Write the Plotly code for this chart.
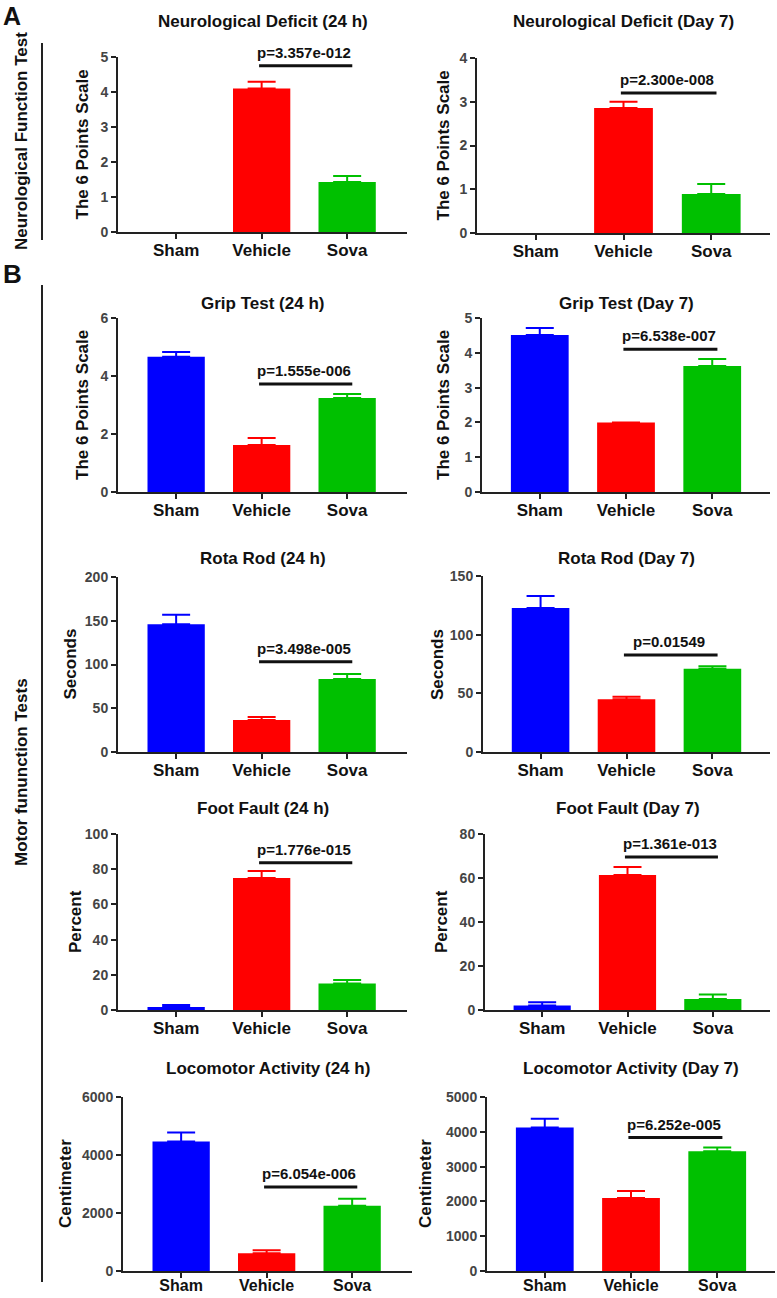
import plotly.graph_objects as go

W, H = 777, 1298

groups = ["Sham", "Vehicle", "Sova"]
colors = ["#0000FF", "#FF0000", "#00C000"]

titles = ["Neurological Deficit (24 h)", "Neurological Deficit (Day 7)",
          "Grip Test (24 h)", "Grip Test (Day 7)",
          "Rota Rod (24 h)", "Rota Rod (Day 7)",
          "Foot Fault (24 h)", "Foot Fault (Day 7)",
          "Locomotor Activity (24 h)", "Locomotor Activity (Day 7)"]
ytitles = ["The 6 Points Scale", "The 6 Points Scale",
           "The 6 Points Scale", "The 6 Points Scale",
           "Seconds", "Seconds", "Percent", "Percent",
           "Centimeter", "Centimeter"]

neuro_24h = [0, 4.10, 1.43]
neuro_24h_err = [0, 0.19, 0.17]
neuro_d7 = [0, 2.86, 0.89]
neuro_d7_err = [0, 0.14, 0.23]
grip_24h = [4.66, 1.62, 3.24]
grip_24h_err = [0.17, 0.24, 0.14]
grip_d7 = [4.51, 2.00, 3.62]
grip_d7_err = [0.20, 0.0, 0.20]
rota_24h = [146, 36.6, 83.4]
rota_24h_err = [11, 3.4, 5.6]
rota_d7 = [122.7, 45, 71]
rota_d7_err = [10.3, 2, 2]
foot_24h = [1.7, 75, 15]
foot_24h_err = [1.2, 4, 2]
foot_d7 = [2, 61.4, 5]
foot_d7_err = [1.5, 3.6, 2]
loco_24h = [4466, 614, 2250]
loco_24h_err = [307, 102, 239]
loco_d7 = [4120, 2100, 3440]
loco_d7_err = [255, 200, 110]

means = [neuro_24h, neuro_d7, grip_24h, grip_d7, rota_24h, rota_d7,
         foot_24h, foot_d7, loco_24h, loco_d7]
errs = [neuro_24h_err, neuro_d7_err, grip_24h_err, grip_d7_err, rota_24h_err,
        rota_d7_err, foot_24h_err, foot_d7_err, loco_24h_err, loco_d7_err]
ymax = [5, 4, 6, 5, 200, 150, 100, 80, 6000, 5000]
dticks = [1, 1, 2, 1, 50, 50, 20, 20, 2000, 1000]
pvals = ["p=3.357e-012", "p=2.300e-008", "p=1.555e-006", "p=6.538e-007",
         "p=3.498e-005", "p=0.01549", "p=1.776e-015", "p=1.361e-013",
         "p=6.054e-006", "p=6.252e-005"]
bracket_y = [4.75, 3.2, 3.72, 4.1, 103, 82.7, 83.6, 69.5, 2900, 3835]

# layout geometry (pixels): x-axis start, x-axis end, y top (ymax), y bottom (0)
geom = [
    (118, 407, 57, 232), (477, 770, 58, 233),
    (118, 407, 318, 492), (482, 770, 318, 492),
    (118, 407, 577, 752), (483, 770, 576, 752),
    (118, 407, 834, 1010), (485, 770, 834, 1010),
    (123, 412, 1097, 1271), (487, 775, 1097, 1271),
]
title_y = [21, 21, 304, 304, 559, 559, 808, 808, 1068, 1068]
ytitle_x = [82, 443, 82, 443, 70, 437, 76, 442, 65, 425]

FONT = "Arial, Liberation Sans, sans-serif"
AX = "#222222"

fig = go.Figure()
annotations = []
shapes = []

for i in range(10):
    x0, x1, yt, yb = geom[i]
    xa = "x" if i == 0 else f"x{i+1}"
    ya = "y" if i == 0 else f"y{i+1}"
    for k in range(3):
        fig.add_trace(go.Bar(
            x=[k], y=[means[i][k]], width=0.67,
            marker=dict(color=colors[k], line=dict(width=0)),
            error_y=dict(type="data", symmetric=False, array=[errs[i][k]],
                         arrayminus=[0], thickness=2, width=14, color=colors[k],
                         visible=means[i][k] > 0),
            xaxis=xa, yaxis=ya, showlegend=False, hoverinfo="skip",
        ))
    xk = "xaxis" if i == 0 else f"xaxis{i+1}"
    yk = "yaxis" if i == 0 else f"yaxis{i+1}"
    lrange = [-0.68, 2.70] if i % 2 == 0 else [-0.67, 2.67]
    bottom = i >= 8
    fig.layout[xk] = dict(
        domain=[x0 / W, x1 / W], range=lrange, anchor=ya, automargin=False,
        tickmode="array", tickvals=[0, 1, 2], ticktext=groups,
        showline=True, linecolor=AX, linewidth=2, ticks="outside",
        ticklen=5, tickwidth=2, tickcolor=AX, showgrid=False, zeroline=False,
        ticklabelstandoff=-6 if bottom else -3,
        tickfont=dict(family=FONT, size=16 if bottom else 17, color="#111111",
                      weight="bold"),
        fixedrange=True,
    )
    fig.layout[yk] = dict(
        domain=[1 - yb / H, 1 - yt / H], range=[0, ymax[i]], anchor=xa,
        automargin=False, dtick=dticks[i], tick0=0,
        showline=True, linecolor=AX, linewidth=2, ticks="outside",
        ticklen=5, tickwidth=2, tickcolor=AX, showgrid=False, zeroline=False,
        tickfont=dict(family=FONT, size=14, color="#444444", weight="bold"),
        fixedrange=True,
    )
    shapes.append(dict(type="line", xref=xa, yref=ya, x0=0.97, x1=2.06,
                       y0=bracket_y[i], y1=bracket_y[i],
                       line=dict(color="#111111", width=3)))
    annotations.append(dict(xref=xa, yref=ya, x=1.5, y=bracket_y[i],
                            text=pvals[i], showarrow=False, yanchor="bottom",
                            yshift=3, font=dict(family=FONT, size=15,
                                                color="#111111", weight="bold")))
    annotations.append(dict(xref="paper", yref="paper",
                            x=((x0 + x1) / 2) / W, y=1 - title_y[i] / H,
                            text=titles[i], showarrow=False,
                            xanchor="center", yanchor="middle",
                            font=dict(family=FONT, size=17, color="#111111",
                                      weight="bold")))
    annotations.append(dict(xref="paper", yref="paper",
                            x=ytitle_x[i] / W, y=1 - ((yt + yb) / 2) / H,
                            text=ytitles[i], showarrow=False, textangle=-90,
                            xanchor="center", yanchor="middle",
                            font=dict(family=FONT, size=17, color="#111111",
                                      weight="bold")))

shapes.append(dict(type="line", xref="paper", yref="paper", x0=42 / W, x1=42 / W,
                   y0=1 - 43 / H, y1=1 - 240 / H, line=dict(color="#222222", width=2)))
shapes.append(dict(type="line", xref="paper", yref="paper", x0=42 / W, x1=42 / W,
                   y0=1 - 285 / H, y1=1 - 1282 / H, line=dict(color="#222222", width=2)))
annotations.append(dict(xref="paper", yref="paper", x=21 / W, y=1 - 141 / H,
                        text="Neurological Function Test", textangle=-90,
                        showarrow=False, xanchor="center", yanchor="middle",
                        font=dict(family=FONT, size=17, color="#111111", weight="bold")))
annotations.append(dict(xref="paper", yref="paper", x=21 / W, y=1 - 772 / H,
                        text="Motor fununction Tests", textangle=-90,
                        showarrow=False, xanchor="center", yanchor="middle",
                        font=dict(family=FONT, size=17, color="#111111", weight="bold")))
annotations.append(dict(xref="paper", yref="paper", x=1 / W, y=1,
                        text="A", showarrow=False, xanchor="left", yanchor="top",
                        font=dict(family=FONT, size=25, color="#111111", weight="bold")))
annotations.append(dict(xref="paper", yref="paper", x=1 / W, y=1 - 274 / H,
                        text="B", showarrow=False, xanchor="left", yanchor="middle",
                        font=dict(family=FONT, size=26, color="#111111", weight="bold")))

fig.update_layout(
    template="none",
    width=W, height=H, margin=dict(l=0, r=0, t=0, b=0, pad=0, autoexpand=False),
    paper_bgcolor="white", plot_bgcolor="white",
    annotations=annotations, shapes=shapes, barmode="overlay",
    showlegend=False,
)

fig.write_html("out.html", config={"displayModeBar": False},
               post_script="document.body.style.margin='0';document.body.style.padding='0';document.documentElement.style.overflow='hidden';")
